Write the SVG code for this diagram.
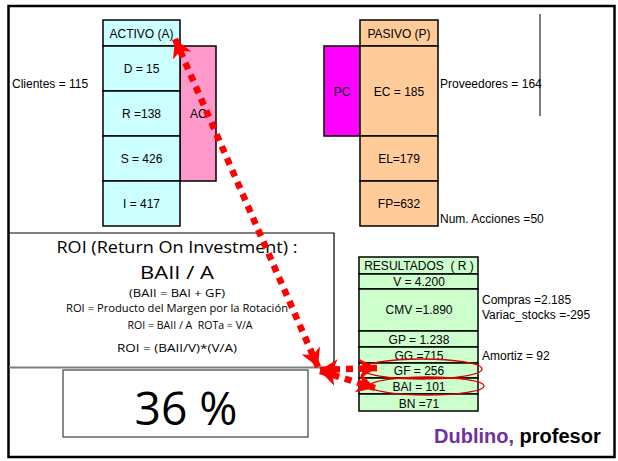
<svg xmlns="http://www.w3.org/2000/svg" width="618" height="461" viewBox="0 0 618 461">
<style>
.t{font-family:"Liberation Sans",Arial,sans-serif;font-size:12px;fill:#000}
.c{text-anchor:middle}
.pre{white-space:pre}
.cell{stroke:#000;stroke-width:1.5}
.act{fill:#CCFFFF}
.pas{fill:#FFCC99}
.res{fill:#CCFFCC}
.roi{font-family:"Open Sans","DejaVu Sans",sans-serif;fill:#000;text-anchor:middle}
.dot{fill:none;stroke:#FF0000;stroke-width:6.5;stroke-dasharray:7 6}
.ell{fill:none;stroke:#E00000;stroke-width:1.3}
</style>
<defs>
<marker id="ah" viewBox="0 0 18 20" refX="18" refY="10" markerWidth="18" markerHeight="20" markerUnits="userSpaceOnUse" orient="auto-start-reverse">
<path d="M0,0 L18,10 L0,20 L5,10 Z" fill="#FF0000"/>
</marker>
</defs>
<rect x="0" y="0" width="618" height="461" fill="#fff"/>
<rect x="8.5" y="6" width="606" height="451" fill="none" stroke="#000" stroke-width="2.5"/>

<g id="roi-box">
<path d="M9,233 H334 V367" fill="none" stroke="#000" stroke-width="1.2"/>
<line x1="9" y1="367.5" x2="334" y2="367.5" stroke="#808080" stroke-width="2"/>
<text class="roi" x="177" y="253" font-size="17" textLength="241" lengthAdjust="spacingAndGlyphs">ROI (Return On Investment) :</text>
<text class="roi" x="177" y="279" font-size="19" textLength="74" lengthAdjust="spacingAndGlyphs">BAII / A</text>
<text class="roi" x="177" y="297" font-size="11" textLength="96" lengthAdjust="spacingAndGlyphs">(BAII = BAI + GF)</text>
<text class="roi" x="177" y="312" font-size="11" textLength="222" lengthAdjust="spacingAndGlyphs">ROI = Producto del Margen por la Rotación</text>
<text class="roi pre" x="190" y="329" font-size="11" textLength="125" lengthAdjust="spacingAndGlyphs">ROI = BAII / A  ROTa = V/A</text>
<text class="roi" x="177" y="352" font-size="11" textLength="120" lengthAdjust="spacingAndGlyphs">ROI = (BAII/V)*(V/A)</text>
</g>

<g id="result-box">
<rect x="63" y="370" width="245" height="67" fill="#fff" stroke="#404040" stroke-width="1.2"/>
<text class="roi" x="186" y="425" font-size="46" textLength="103" lengthAdjust="spacingAndGlyphs">36 %</text>
</g>

<g id="activo">
<rect class="cell" x="180" y="46" width="36" height="135" fill="#FF99CC"/>
<text class="t" x="190" y="118">AC</text>
<rect class="cell act" x="103" y="20" width="77" height="26"/>
<rect class="cell act" x="103" y="46" width="77" height="45"/>
<rect class="cell act" x="103" y="91" width="77" height="45"/>
<rect class="cell act" x="103" y="136" width="77" height="45"/>
<rect class="cell act" x="103" y="181" width="77" height="45"/>
<text class="t c" x="141.5" y="38">ACTIVO (A)</text>
<text class="t c" x="141.5" y="73">D = 15</text>
<text class="t c" x="141.5" y="118">R =138</text>
<text class="t c" x="141.5" y="163">S = 426</text>
<text class="t c" x="141.5" y="208">I = 417</text>
<text class="t" x="12" y="88">Clientes = 115</text>
</g>

<g id="pasivo">
<rect class="cell" x="324" y="46" width="36" height="90" fill="#FF00FF"/>
<text class="t c" x="342" y="96">PC</text>
<rect class="cell pas" x="360" y="20" width="78" height="26"/>
<rect class="cell pas" x="360" y="46" width="78" height="90"/>
<rect class="cell pas" x="360" y="136" width="78" height="45"/>
<rect class="cell pas" x="360" y="181" width="78" height="45"/>
<text class="t c" x="399" y="38">PASIVO (P)</text>
<text class="t c" x="399" y="96">EC = 185</text>
<text class="t c" x="399" y="163">EL=179</text>
<text class="t c" x="399" y="208">FP=632</text>
<text class="t" x="440" y="88">Proveedores = 164</text>
<text class="t" x="440" y="223">Num. Acciones =50</text>
<line x1="540" y1="14" x2="540" y2="116" stroke="#000" stroke-width="1"/>
</g>

<g id="resultados">
<rect class="cell res" x="359" y="257" width="119" height="17"/>
<rect class="cell res" x="359" y="274" width="119" height="15"/>
<rect class="cell res" x="359" y="289" width="119" height="42"/>
<rect class="cell res" x="359" y="331" width="119" height="16"/>
<rect class="cell res" x="359" y="347" width="119" height="16"/>
<rect class="cell res" x="359" y="363" width="119" height="15"/>
<rect class="cell res" x="359" y="378" width="119" height="16"/>
<rect class="cell res" x="359" y="394" width="119" height="17"/>
<text class="t c pre" x="419" y="270">RESULTADOS  ( R )</text>
<text class="t c" x="419" y="286">V = 4.200</text>
<text class="t c" x="419" y="314">CMV =1.890</text>
<text class="t c" x="419" y="344">GP = 1.238</text>
<text class="t c" x="419" y="360">GG =715</text>
<text class="t c" x="419" y="375">GF = 256</text>
<text class="t c" x="419" y="391">BAI = 101</text>
<text class="t c" x="419" y="408">BN =71</text>
<text class="t" x="482" y="304">Compras =2.185</text>
<text class="t" x="482" y="319">Variac_stocks =-295</text>
<text class="t" x="482" y="360">Amortiz = 92</text>
<ellipse class="ell" cx="422" cy="369" rx="60" ry="10"/>
<ellipse class="ell" cx="427" cy="386" rx="57" ry="9"/>
</g>

<g id="connectors">
<line class="dot" x1="175" y1="39" x2="318" y2="367" marker-start="url(#ah)" marker-end="url(#ah)"/>
<line class="dot" x1="320" y1="370" x2="377" y2="368" marker-start="url(#ah)" marker-end="url(#ah)"/>
<line class="dot" x1="320" y1="371" x2="375" y2="388" marker-start="url(#ah)" marker-end="url(#ah)"/>
</g>

<g id="signature">
<text x="434" y="443" font-family="Liberation Sans,Arial,sans-serif" font-size="20" font-weight="bold"><tspan fill="#7030A0">Dublino,</tspan><tspan fill="#000"> profesor</tspan></text>
</g>
</svg>
